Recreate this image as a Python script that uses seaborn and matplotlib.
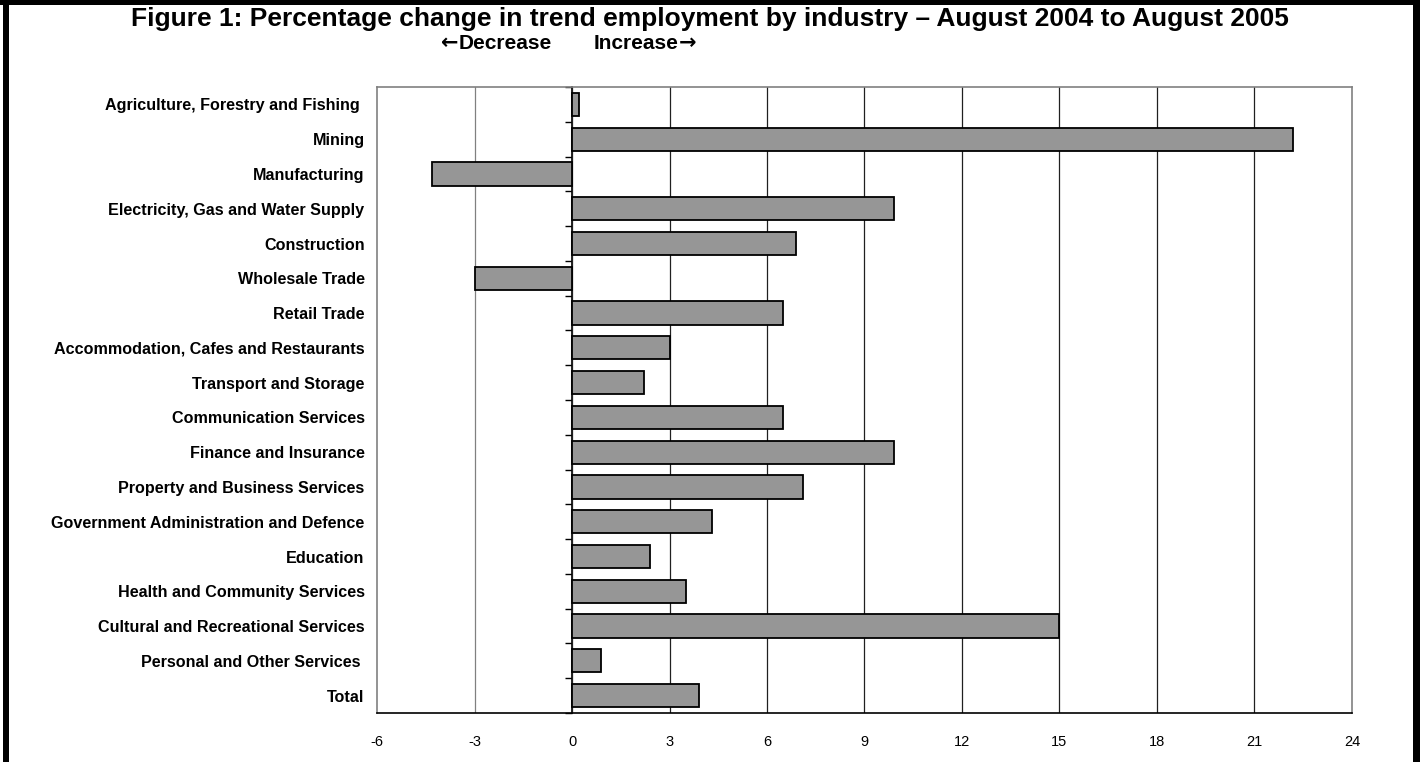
import matplotlib
matplotlib.use("Agg")
import matplotlib.pyplot as plt
from matplotlib.patches import Rectangle
import seaborn as sns
import pandas as pd

industries = [
    "Agriculture, Forestry and Fishing ",
    "Mining",
    "Manufacturing",
    "Electricity, Gas and Water Supply",
    "Construction",
    "Wholesale Trade",
    "Retail Trade",
    "Accommodation, Cafes and Restaurants",
    "Transport and Storage",
    "Communication Services",
    "Finance and Insurance",
    "Property and Business Services",
    "Government Administration and Defence",
    "Education",
    "Health and Community Services",
    "Cultural and Recreational Services",
    "Personal and Other Services ",
    "Total",
]
pct_change = [0.2, 22.2, -4.3, 9.9, 6.9, -3.0, 6.5, 3.0, 2.2, 6.5,
              9.9, 7.1, 4.3, 2.4, 3.5, 15.0, 0.9, 3.9]
x_ticks = [-6, -3, 0, 3, 6, 9, 12, 15, 18, 21, 24]

df = pd.DataFrame({"industry": industries, "change": pct_change})

sns.set_style("white")
plt.rcParams["font.family"] = ["Liberation Sans", "DejaVu Sans"]
for key in ("text.color", "axes.labelcolor", "xtick.color", "ytick.color"):
    plt.rcParams[key] = "black"

fig = plt.figure(figsize=(14.2, 7.62), dpi=100)
ax = fig.add_axes([0.2655, 0.0643, 0.6866, 0.8215])

sns.barplot(data=df, x="change", y="industry", orient="h", ax=ax,
            color="#969696", saturation=1, edgecolor="black",
            linewidth=1.3, width=0.67, zorder=3)

ax.set_xlim(x_ticks[0], x_ticks[-1])
ax.set_ylim(len(industries) - 0.5, -0.5)
ax.set_xticks(x_ticks)
ax.set_xticklabels([str(t) for t in x_ticks], fontsize=10.5)
ax.set_xlabel("")
ax.set_ylabel("")

# vertical gridlines
for t in x_ticks[1:-1]:
    ax.axvline(t, color="#202020" if t != -3 else "#808080",
               lw=0.9, zorder=1)

# frame of the plot area
for side in ("top", "right", "left"):
    ax.spines[side].set_visible(True)
    ax.spines[side].set_color("#808080")
    ax.spines[side].set_linewidth(1.2)
ax.spines["bottom"].set_color("black")
ax.spines["bottom"].set_linewidth(1.2)
ax.spines["bottom"].set_zorder(4)

ax.tick_params(axis="x", direction="out", length=6, width=1,
               color="black", pad=10)
ax.tick_params(axis="y", length=0, pad=9)
for lbl in ax.get_yticklabels():
    lbl.set_fontweight("bold")
    lbl.set_fontsize(11.6)

# category axis drawn at zero with ticks between categories
zero_frac = (0 - x_ticks[0]) / (x_ticks[-1] - x_ticks[0])
sec = ax.secondary_yaxis(zero_frac)
sec.set_yticks([i + 0.5 for i in range(-1, len(industries))])
sec.set_yticklabels([])
sec.tick_params(axis="y", direction="out", length=5, width=1, color="black")
sec.spines["left"].set_color("black")
sec.spines["left"].set_linewidth(1.2)

fig.text(0.5, 0.975,
         "Figure 1: Percentage change in trend employment by industry \u2013 "
         "August 2004 to August 2005",
         ha="center", va="center", fontsize=19, fontweight="bold")

# direction hints above the zero line
t_dec = fig.text(0.3887, 0.943, "Decrease", ha="right", va="center",
                 fontsize=15, fontweight="bold")
t_inc = fig.text(0.418, 0.943, "Increase", ha="left", va="center",
                 fontsize=15, fontweight="bold")
ax.annotate("\u2190", xy=(0, 0.5), xycoords=t_dec, ha="right", va="center",
            fontsize=15, fontweight="bold", family=["DejaVu Sans"],
            annotation_clip=False)
ax.annotate("\u2192", xy=(1, 0.5), xycoords=t_inc, ha="left", va="center",
            fontsize=15, fontweight="bold", family=["DejaVu Sans"],
            annotation_clip=False)

# black page border
for (x0, y0, w, h) in [(0.002, 0.0, 0.004, 1.0), (0.0, 0.994, 1.0, 0.006),
                       (0.995, 0.0, 0.005, 1.0)]:
    fig.patches.append(Rectangle((x0, y0), w, h, transform=fig.transFigure,
                                 facecolor="black", edgecolor="none"))

fig.savefig("out.png", dpi=100)
